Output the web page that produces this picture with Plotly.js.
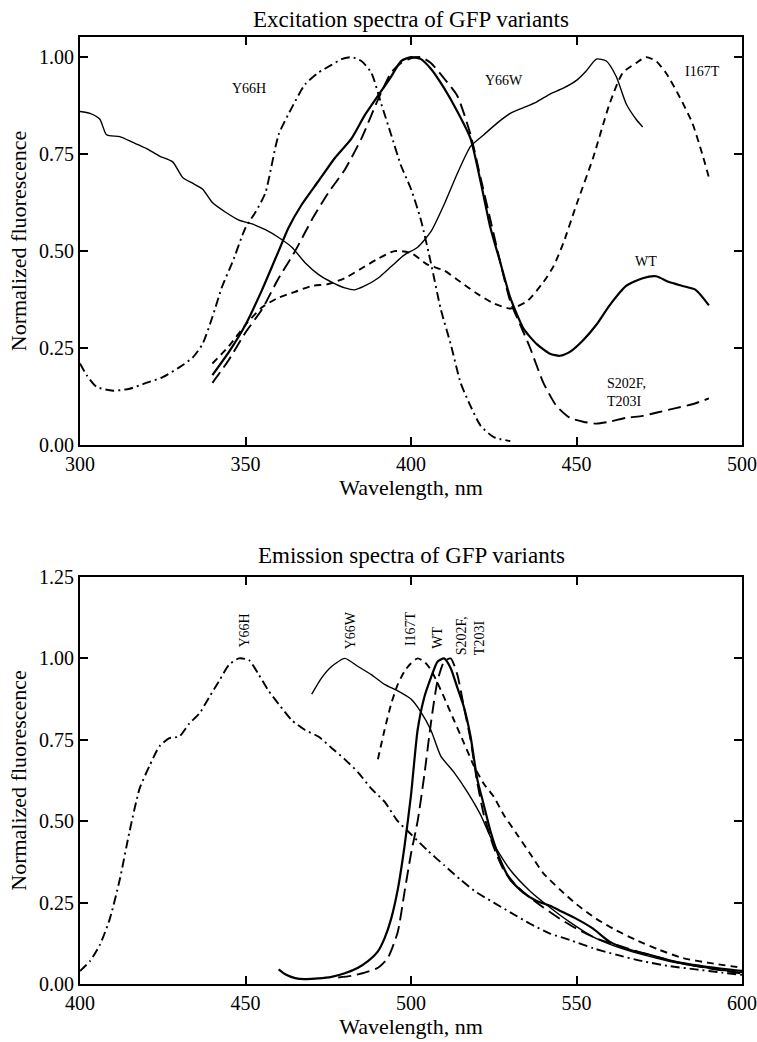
<!DOCTYPE html>
<html>
<head>
<meta charset="utf-8">
<script src="https://cdn.plot.ly/plotly-3.0.1.min.js"></script>
<style>
  html, body { margin: 0; padding: 0; background: #fff; }
  #chart { width: 757px; height: 1042px; }
</style>
</head>
<body>
<div id="chart"></div>
<script>
// ---------- Excitation spectra (top panel) ----------
const exY66H_x = [300, 302, 305, 310, 315, 320, 325, 330, 334, 337, 340, 343, 346, 350, 353, 356, 360, 364, 368, 372, 376, 379, 382, 385, 388, 391, 394, 397, 400, 403, 406, 409, 412, 415, 418, 421, 425, 430];
const exY66H_y = [0.21, 0.18, 0.15, 0.14, 0.145, 0.16, 0.175, 0.20, 0.225, 0.26, 0.33, 0.41, 0.47, 0.56, 0.60, 0.65, 0.80, 0.87, 0.93, 0.96, 0.98, 0.995, 1.0, 0.99, 0.96, 0.88, 0.80, 0.72, 0.66, 0.58, 0.47, 0.35, 0.26, 0.16, 0.10, 0.05, 0.02, 0.01];

const exWT_x = [340, 345, 350, 355, 360, 363, 367, 372, 377, 382, 386, 390, 394, 397, 400, 403, 406, 410, 414, 418, 421, 424, 427, 430, 434, 438, 442, 445, 448, 452, 456, 460, 465, 470, 474, 478, 482, 486, 490];
const exWT_y = [0.18, 0.24, 0.31, 0.40, 0.50, 0.56, 0.62, 0.68, 0.74, 0.79, 0.85, 0.90, 0.95, 0.99, 1.0, 0.995, 0.97, 0.92, 0.86, 0.79, 0.68, 0.56, 0.47, 0.38, 0.30, 0.26, 0.235, 0.23, 0.24, 0.27, 0.31, 0.36, 0.41, 0.43, 0.435, 0.42, 0.41, 0.40, 0.36];

const exS202F_x = [340, 345, 350, 355, 360, 365, 370, 375, 380, 385, 390, 394, 397, 400, 403, 406, 410, 414, 418, 421, 424, 427, 430, 433, 436, 440, 444, 448, 452, 456, 460, 465, 470, 475, 480, 485, 490];
const exS202F_y = [0.16, 0.22, 0.29, 0.35, 0.43, 0.50, 0.58, 0.65, 0.71, 0.79, 0.89, 0.96, 0.985, 0.997, 1.0, 0.985, 0.945, 0.90, 0.80, 0.69, 0.58, 0.47, 0.37, 0.31, 0.25, 0.16, 0.10, 0.07, 0.06, 0.055, 0.06, 0.07, 0.075, 0.085, 0.095, 0.105, 0.12];

const exI167T_x = [340, 345, 350, 355, 360, 365, 370, 375, 380, 385, 390, 395, 400, 405, 410, 415, 420, 425, 430, 435, 440, 443, 446, 450, 455, 460, 464, 468, 471, 474, 477, 481, 485, 488, 490];
const exI167T_y = [0.21, 0.255, 0.31, 0.355, 0.38, 0.395, 0.41, 0.415, 0.43, 0.455, 0.48, 0.50, 0.495, 0.465, 0.45, 0.42, 0.39, 0.365, 0.352, 0.37, 0.42, 0.46, 0.52, 0.62, 0.74, 0.88, 0.96, 0.985, 1.0, 0.99, 0.96, 0.90, 0.83, 0.75, 0.69];

const exY66W_x = [300, 303, 306, 308, 312, 316, 320, 324, 328, 331, 334, 337, 340, 344, 348, 352, 356, 360, 364, 368, 372, 376, 380, 383, 386, 390, 394, 398, 402, 406, 410, 414, 418, 422, 426, 430, 434, 438, 442, 446, 450, 453, 456, 459, 462, 465, 468, 470];
const exY66W_y = [0.86, 0.855, 0.84, 0.80, 0.795, 0.78, 0.765, 0.745, 0.73, 0.69, 0.675, 0.66, 0.625, 0.60, 0.58, 0.57, 0.555, 0.535, 0.51, 0.47, 0.44, 0.42, 0.405, 0.40, 0.41, 0.43, 0.46, 0.49, 0.51, 0.55, 0.62, 0.70, 0.77, 0.80, 0.83, 0.855, 0.87, 0.885, 0.905, 0.92, 0.94, 0.965, 0.995, 0.99, 0.95, 0.88, 0.84, 0.82];

// ---------- Emission spectra (bottom panel) ----------
const emY66H_x = [400, 403, 406, 409, 412, 415, 418, 421, 424, 427, 430, 433, 436, 439, 442, 445, 448, 451, 454, 457, 460, 464, 468, 472, 476, 480, 484, 488, 492, 496, 500, 505, 510, 515, 520, 525, 530, 536, 542, 548, 555, 562, 570, 578, 586, 594, 600];
const emY66H_y = [0.04, 0.07, 0.12, 0.20, 0.32, 0.47, 0.60, 0.67, 0.73, 0.755, 0.76, 0.80, 0.83, 0.88, 0.93, 0.98, 1.0, 0.995, 0.95, 0.90, 0.86, 0.81, 0.78, 0.76, 0.725, 0.69, 0.65, 0.60, 0.56, 0.50, 0.46, 0.41, 0.365, 0.32, 0.28, 0.25, 0.22, 0.185, 0.155, 0.135, 0.11, 0.09, 0.07, 0.055, 0.045, 0.035, 0.028];

const emY66W_x = [470, 473, 476, 480, 484, 488, 492, 496, 500, 503, 506, 509, 513, 517, 521, 525, 530, 536, 542, 548, 555, 562, 570, 578, 586, 594, 600];
const emY66W_y = [0.89, 0.94, 0.975, 1.0, 0.975, 0.95, 0.92, 0.90, 0.875, 0.835, 0.78, 0.70, 0.65, 0.59, 0.52, 0.43, 0.35, 0.285, 0.235, 0.19, 0.145, 0.115, 0.09, 0.07, 0.055, 0.042, 0.035];

const emI167T_x = [490, 492, 494, 496, 498, 500, 502, 504, 506, 508, 510, 513, 516, 519, 522, 525, 528, 532, 536, 540, 545, 550, 556, 562, 568, 575, 582, 590, 600];
const emI167T_y = [0.69, 0.78, 0.86, 0.92, 0.96, 0.985, 1.0, 0.99, 0.965, 0.925, 0.88, 0.81, 0.74, 0.67, 0.615, 0.575, 0.52, 0.46, 0.40, 0.34, 0.29, 0.245, 0.20, 0.165, 0.135, 0.105, 0.08, 0.065, 0.05];

const emWT_x = [460, 462, 465, 468, 472, 476, 480, 484, 487, 490, 492, 494, 496, 498, 500, 502, 504, 506, 508, 510, 512, 514, 516, 518, 520, 522, 524, 527, 530, 534, 538, 542, 546, 550, 555, 560, 566, 572, 580, 590, 600];
const emWT_y = [0.045, 0.03, 0.018, 0.015, 0.017, 0.022, 0.033, 0.05, 0.07, 0.10, 0.14, 0.20, 0.29, 0.42, 0.58, 0.78, 0.88, 0.94, 0.99, 1.0, 0.97, 0.91, 0.85, 0.76, 0.63, 0.55, 0.47, 0.38, 0.32, 0.28, 0.255, 0.24, 0.22, 0.20, 0.17, 0.13, 0.105, 0.09, 0.068, 0.052, 0.04];

const emS202F_x = [478, 482, 486, 490, 493, 496, 498, 500, 502, 504, 506, 508, 510, 512, 514, 516, 518, 520, 522, 525, 528, 532, 536, 540, 545, 550, 556, 562, 570, 580, 590, 600];
const emS202F_y = [0.02, 0.025, 0.035, 0.05, 0.08, 0.16, 0.28, 0.40, 0.50, 0.64, 0.80, 0.93, 0.99, 1.0, 0.95, 0.85, 0.75, 0.62, 0.52, 0.42, 0.35, 0.30, 0.265, 0.235, 0.20, 0.17, 0.14, 0.12, 0.095, 0.068, 0.048, 0.032];

// ---------- Labels ----------
const exLabels = ["Y66H", "Y66W", "I167T", "WT", "S202F,<br>T203I"];
const exLabelX = [351, 428, 488, 471, 465];
const exLabelY = [0.92, 0.94, 0.963, 0.472, 0.135];

const emLabels = ["Y66H", "Y66W", "I167T", "WT", "S202F,<br>T203I"];
const emLabelX = [449.8, 481.8, 499.7, 508, 518];
const emLabelY = [1.085, 1.085, 1.09, 1.065, 1.07];

const xTicksTop = [300, 350, 400, 450, 500];
const xTicksBottom = [400, 450, 500, 550, 600];

// ---------- Styles ----------
const FONT = "Liberation Serif, Times New Roman, serif";
const styles = {
  WT:    {color: "#000", width: 2.2, dash: "solid"},
  Y66W:  {color: "#000", width: 1.4, dash: "solid"},
  S202F: {color: "#000", width: 1.9, dash: "13px,6px"},
  I167T: {color: "#000", width: 1.9, dash: "7px,5px"},
  Y66H:  {color: "#000", width: 1.9, dash: "9px,4px,2px,4px"}
};

function tr(x, y, name, st, xa, ya) {
  return {x: x, y: y, name: name, type: "scatter", mode: "lines",
          line: Object.assign({shape: "spline", smoothing: 0.6}, st),
          xaxis: xa, yaxis: ya, hoverinfo: "x+y+name"};
}

const data = [
  tr(exY66H_x, exY66H_y, "Y66H", styles.Y66H, "x", "y"),
  tr(exY66W_x, exY66W_y, "Y66W", styles.Y66W, "x", "y"),
  tr(exWT_x, exWT_y, "WT", styles.WT, "x", "y"),
  tr(exS202F_x, exS202F_y, "S202F, T203I", styles.S202F, "x", "y"),
  tr(exI167T_x, exI167T_y, "I167T", styles.I167T, "x", "y"),
  tr(emY66H_x, emY66H_y, "Y66H", styles.Y66H, "x2", "y2"),
  tr(emY66W_x, emY66W_y, "Y66W", styles.Y66W, "x2", "y2"),
  tr(emI167T_x, emI167T_y, "I167T", styles.I167T, "x2", "y2"),
  tr(emWT_x, emWT_y, "WT", styles.WT, "x2", "y2"),
  tr(emS202F_x, emS202F_y, "S202F, T203I", styles.S202F, "x2", "y2")
];

const axisCommon = {
  showgrid: false, zeroline: false,
  showline: true, linecolor: "#000", linewidth: 2, mirror: "ticks",
  ticks: "inside", ticklen: 8, tickwidth: 2, tickcolor: "#000",
  tickfont: {family: FONT, size: 20, color: "#000"}
};

const annotations = [];
annotations.push({xref: "paper", yref: "paper", x: 0.5, y: 1.019, yanchor: "middle", xanchor: "center",
  showarrow: false, text: "Excitation spectra of GFP variants", font: {family: FONT, size: 23, color: "#000"}});
annotations.push({xref: "paper", yref: "paper", x: 0.5, y: 0.452, yanchor: "middle", xanchor: "center",
  showarrow: false, text: "Emission spectra of GFP variants", font: {family: FONT, size: 23, color: "#000"}});
for (let i = 0; i < exLabels.length; i++) {
  annotations.push({xref: "x", yref: "y", x: exLabelX[i], y: exLabelY[i], showarrow: false,
    text: exLabels[i], align: "left", font: {family: FONT, size: 14, color: "#000"}});
}
for (let i = 0; i < emLabels.length; i++) {
  annotations.push({xref: "x2", yref: "y2", x: emLabelX[i], y: emLabelY[i], showarrow: false,
    textangle: -90, text: emLabels[i], align: "left", font: {family: FONT, size: 14, color: "#000"}});
}

const layout = {
  width: 757, height: 1042,
  margin: {l: 80, r: 15, t: 37, b: 58},
  paper_bgcolor: "#fff", plot_bgcolor: "#fff",
  showlegend: false,
  font: {family: FONT, color: "#000"},
  xaxis: Object.assign({}, axisCommon, {
    domain: [0, 1], anchor: "y", range: [300, 500], tickvals: xTicksTop,
    title: {text: "Wavelength, nm", font: {family: FONT, size: 22, color: "#000"}, standoff: 1}
  }),
  yaxis: Object.assign({}, axisCommon, {
    domain: [0.5692, 1], anchor: "x", range: [0, 1.052], tickvals: [0, 0.25, 0.5, 0.75, 1.0], tickformat: ".2f",
    title: {text: "Normalized fluorescence", font: {family: FONT, size: 22, color: "#000"}, standoff: 6}
  }),
  xaxis2: Object.assign({}, axisCommon, {
    domain: [0, 1], anchor: "y2", range: [400, 600], tickvals: xTicksBottom,
    title: {text: "Wavelength, nm", font: {family: FONT, size: 22, color: "#000"}, standoff: 4}
  }),
  yaxis2: Object.assign({}, axisCommon, {
    domain: [0, 0.4298], anchor: "x2", range: [0, 1.25], tickvals: [0, 0.25, 0.5, 0.75, 1.0, 1.25], tickformat: ".2f",
    title: {text: "Normalized fluorescence", font: {family: FONT, size: 22, color: "#000"}, standoff: 6}
  }),
  annotations: annotations
};

Plotly.newPlot("chart", data, layout, {displayModeBar: false, staticPlot: true});
</script>
</body>
</html>
